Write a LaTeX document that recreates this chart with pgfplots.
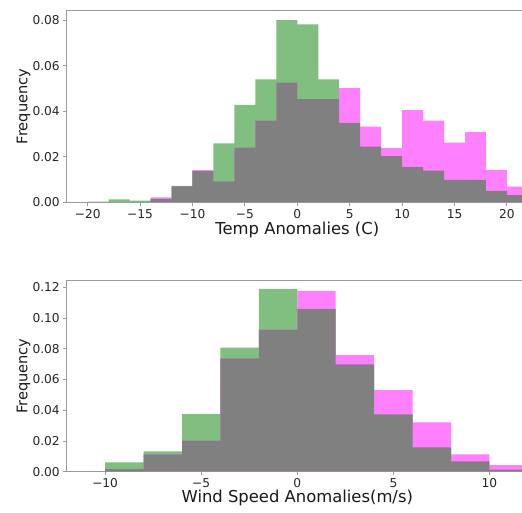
\documentclass[border=0pt]{standalone}
\usepackage{pgfplots}
\pgfplotsset{compat=1.18}
\usepackage{pgfplotstable}
\usepackage{fontspec}
\setmainfont{DejaVu Sans}
\definecolor{hgreen}{HTML}{80BF80}
\definecolor{hmag}{HTML}{FF80FF}
\definecolor{hgrey}{HTML}{808080}
\definecolor{spine}{HTML}{9A9A9A}

\pgfplotstableread{
x g m
-19 0.0003 0
-17 0.0013 0
-15 0.0007 0
-13 0.0015 0.0022
-11 0.0072 0.0070
-9 0.0137 0.0142
-7 0.0259 0.0092
-5 0.0428 0.0240
-3 0.0539 0.0358
-1 0.0800 0.0525
1 0.0781 0.0453
3 0.0539 0.0453
5 0.0349 0.0501
7 0.0244 0.0332
9 0.0203 0.0238
11 0.0156 0.0405
13 0.0139 0.0358
15 0.0098 0.0262
17 0.0098 0.0308
19 0.0050 0.0142
21 0.0032 0.0069
}\temptable

\pgfplotstableread{
x g m
-9 0.0061 0.0017
-7 0.0132 0.0113
-5 0.0375 0.0202
-3 0.0807 0.0738
-1 0.1189 0.0924
1 0.1059 0.1176
3 0.0698 0.0759
5 0.0373 0.0531
7 0.0158 0.0321
9 0.0067 0.0113
11 0.0013 0.0043
}\windtable

\pgfplotsset{
  histax/.style={
    scale only axis,
    width=461.2pt,
    axis line style={spine, line width=0.9pt},
    tick pos=left,
    tick align=outside,
    major tick length=3.5pt,
    every tick/.style={spine, line width=0.9pt},
    tick label style={font=\fontsize{12.2}{14}\selectfont, text=black!85},
    ylabel style={font=\fontsize{14.6}{17}\selectfont, text=black!90},
    xlabel style={font=\fontsize{16.4}{19}\selectfont, text=black!90},
    ymin=0,
    scaled ticks=false,
    ylabel={Frequency},
    ylabel style={at={(axis description cs:-0.0854,0.5)}, anchor=base},
    xtick style={spine}, ytick style={spine},
    clip=true,
  },
  gbar/.style={ybar, bar width=2, bar shift=0pt, draw=none, fill=hgreen},
  mbar/.style={ybar, bar width=2, bar shift=0pt, draw=none, fill=hmag},
  kbar/.style={ybar, bar width=2, bar shift=0pt, draw=none, fill=hgrey},
}

\begin{document}
\begin{tikzpicture}
\useasboundingbox (0,0) rectangle (522pt,512pt);
\begin{axis}[histax,
  at={(66.7pt,309.7pt)}, anchor=south west,
  height=191.6pt,
  xmin=-22, xmax=22, ymax=0.0841,
  xtick={-20,-15,-10,-5,0,5,10,15,20},
  xticklabels={−20,−15,−10,−5,0,5,10,15,20},
  ytick={0,0.02,0.04,0.06,0.08},
  yticklabels={0.00,0.02,0.04,0.06,0.08},
  xlabel={Temp Anomalies (C)},
  xlabel style={at={(axis description cs:0.5,0)}, anchor=base, yshift=-32pt},
]
\addplot[gbar] table[x=x, y=g] {\temptable};
\addplot[mbar] table[x=x, y=m] {\temptable};
\addplot[kbar] table[x=x, y expr={min(\thisrow{g},\thisrow{m})}] {\temptable};
\end{axis}
\begin{axis}[histax,
  at={(66.7pt,40.3pt)}, anchor=south west,
  height=191pt,
  xmin=-12, xmax=12, ymax=0.1243,
  xtick={-10,-5,0,5,10},
  xticklabels={−10,−5,0,5,10},
  ytick={0,0.02,0.04,0.06,0.08,0.10,0.12},
  yticklabels={0.00,0.02,0.04,0.06,0.08,0.10,0.12},
  xlabel={Wind Speed Anomalies(m/s)},
  xlabel style={at={(axis description cs:0.5,0)}, anchor=base, yshift=-31pt},
]
\addplot[gbar] table[x=x, y=g] {\windtable};
\addplot[mbar] table[x=x, y=m] {\windtable};
\addplot[kbar] table[x=x, y expr={min(\thisrow{g},\thisrow{m})}] {\windtable};
\end{axis}
\end{tikzpicture}
\end{document}
